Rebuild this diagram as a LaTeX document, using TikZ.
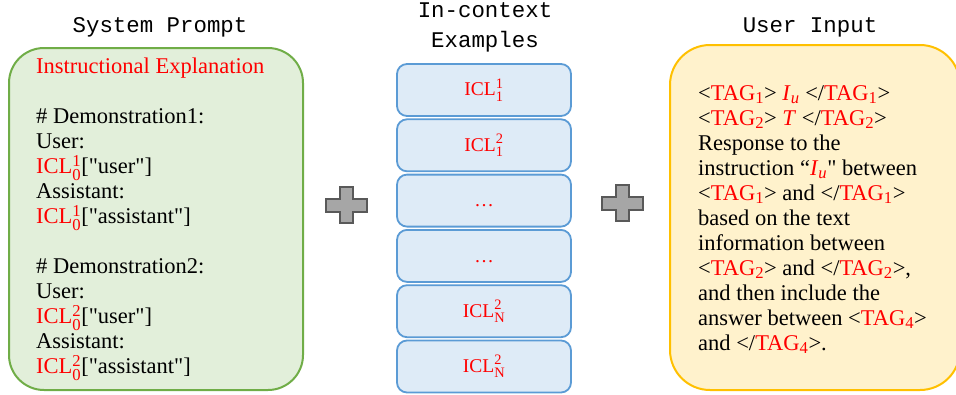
\documentclass[tikz,border=0pt]{standalone}
\usepackage{amsmath}
\usepackage{fontspec}
\setmainfont{Liberation Serif}[Ligatures=TeXOff]
\setmonofont{Liberation Mono}
\renewcommand{\defaultscriptratio}{.74}
\definecolor{icred}{HTML}{FF0000}
\definecolor{grfill}{HTML}{E2EFDA}
\definecolor{grdraw}{HTML}{70AD47}
\definecolor{blfill}{HTML}{DEEBF7}
\definecolor{bldraw}{HTML}{5B9BD5}
\definecolor{yefill}{HTML}{FFF2CC}
\definecolor{yedraw}{HTML}{FFC000}
\definecolor{plfill}{HTML}{A6A6A6}
\definecolor{pldraw}{HTML}{595959}
\newcommand{\iclx}[2]{\textcolor{icred}{ICL$^{\text{#1}}_{\text{#2}}$}}
\newcommand{\tagx}[1]{\textcolor{icred}{TAG$_{\text{#1}}$}}
\newcommand{\iux}{\textcolor{icred}{\textit{I}$_{\text{\textit{u}}}$}}
\begin{document}
\begin{tikzpicture}[x=1pt,y=-1pt,
  title/.style={font=\ttfamily\fontsize{22.4}{30}\selectfont, inner sep=0pt, align=center},
  bigbox/.style={draw, line width=2pt, minimum width=#1, inner sep=0pt},
  iclbox/.style={draw=bldraw, fill=blfill, line width=1.8pt, rounded corners=10pt,
    minimum width=174pt, minimum height=52pt, inner sep=0pt,
    font=\fontsize{19.5}{22}\selectfont},
  bodytext/.style={font=\fontsize{22.5}{25}\selectfont, align=left, inner sep=0pt, anchor=north west},
  plusshape/.style={draw=pldraw, fill=plfill, line width=2pt}
]
\useasboundingbox (0,0) rectangle (956,394);
\clip (0,0) rectangle (956,394);

% titles
\node[title] (t1) at (160,27) {System Prompt};
\node[title] (t2) at (485,27) {In-context\\Examples};
\node[title] (t3) at (810,27) {User Input};

% system prompt box
\node[bigbox=294pt, draw=grdraw, fill=grfill, rounded corners=35pt, minimum height=342pt] (sys) at (156,219) {};
\node[bodytext] (systext) at (36,58) {\textcolor{icred}{Instructional Explanation}\\[25pt]
\# Demonstration1:\\
User:\\
\iclx{1}{0}["user"]\\
Assistant:\\
\iclx{1}{0}["assistant"]\\[25pt]
\# Demonstration2:\\
User:\\
\iclx{2}{0}["user"]\\
Assistant:\\
\iclx{2}{0}["assistant"]};

% in-context boxes
\node[iclbox] (b1) at (484,90) {\iclx{1}{1}};
\node[iclbox] (b2) at (484,145.3) {\iclx{2}{1}};
\node[iclbox] (b3) at (484,200.6) {\vphantom{I}\textcolor{icred}{…}};
\node[iclbox] (b4) at (484,255.9) {\vphantom{I}\textcolor{icred}{…}};
\node[iclbox] (b5) at (484,311.2) {\iclx{2}{N}};
\node[iclbox] (b6) at (484,366.5) {\iclx{2}{N}};

% user input box
\node[bigbox=290pt, draw=yedraw, fill=yefill, rounded corners=40pt, minimum height=345pt] (usr) at (815,217.5) {};
\node[bodytext] (usrtext) at (698,85) {<\tagx{1}> \iux{} </\tagx{1}>\\
<\tagx{2}> \textcolor{icred}{\textit{T}} </\tagx{2}>\\
Response to the\\
instruction “\iux" between\\
<\tagx{1}> and </\tagx{1}>\\
based on the text\\
information between\\
<\tagx{2}> and </\tagx{2}>,\\
and then include the\\
answer between <\tagx{4}>\\
and </\tagx{4}>.};

% plus signs
\coordinate (p1) at (346.5,205);
\coordinate (p2) at (622.5,203);
\foreach \c in {p1,p2}{
  \draw[plusshape] ([shift={(-6.5,-18)}]\c) -- ([shift={(6.5,-18)}]\c) -- ([shift={(6.5,-6.5)}]\c)
    -- ([shift={(20.5,-6.5)}]\c) -- ([shift={(20.5,6.5)}]\c) -- ([shift={(6.5,6.5)}]\c)
    -- ([shift={(6.5,18)}]\c) -- ([shift={(-6.5,18)}]\c) -- ([shift={(-6.5,6.5)}]\c)
    -- ([shift={(-20.5,6.5)}]\c) -- ([shift={(-20.5,-6.5)}]\c) -- ([shift={(-6.5,-6.5)}]\c) -- cycle;
}
\end{tikzpicture}
\end{document}
